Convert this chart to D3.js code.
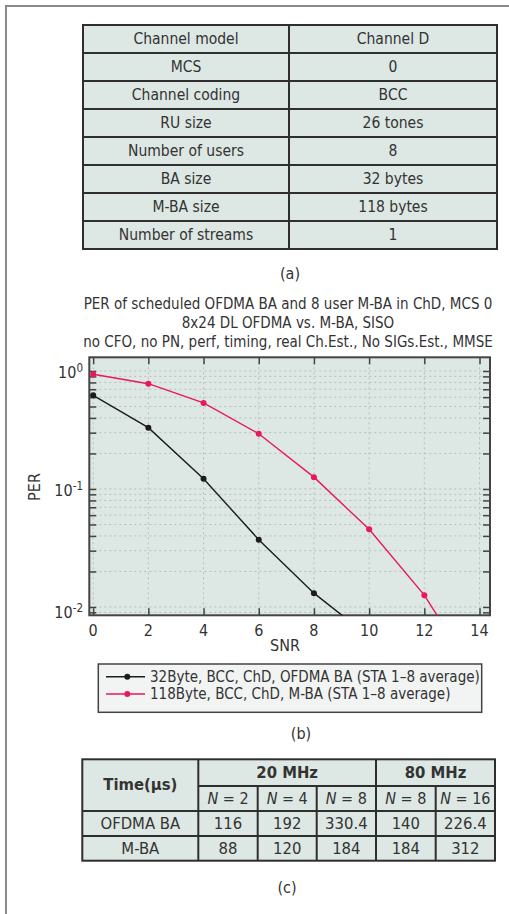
<!DOCTYPE html>
<meta charset="utf-8">
<style>
body { margin: 0; background: #fff; }
svg text { font-family: "DejaVu Sans Condensed", "DejaVu Sans", sans-serif; font-stretch: condensed; fill: #333; }
.grid line { stroke: #b9bfbc; stroke-dasharray: 2,3; }
</style>
<body>
<script src="https://d3js.org/d3.v7.min.js"></script>
<script>

var width = 509,
    height = 914;

// table (a)
var paramNames = ["Channel model", "MCS", "Channel coding", "RU size", "Number of users", "BA size", "M-BA size", "Number of streams"];
var paramValues = ["Channel D", "0", "BCC", "26 tones", "8", "32 bytes", "118 bytes", "1"];

// chart (b)
var snr = [0, 2, 4, 6, 8, 10, 12, 14];
var perOfdma = [0.622, 0.331, 0.122, 0.0372, 0.0131, 0.0056, null, null];
var perMba = [0.938, 0.780, 0.536, 0.294, 0.126, 0.0455, 0.0126, 0.0023];
var seriesNames = ["32Byte, BCC, ChD, OFDMA BA (STA 1\u20138 average)", "118Byte, BCC, ChD, M-BA (STA 1\u20138 average)"];
var seriesColors = ["#1c1c1c", "#e8185c"];
var titleLines = [
    "PER of scheduled OFDMA BA and 8 user M-BA in ChD, MCS 0",
    "8x24 DL OFDMA vs. M-BA, SISO",
    "no CFO, no PN, perf, timing, real Ch.Est., No SIGs.Est., MMSE"
];
var xTicks = [0, 2, 4, 6, 8, 10, 12, 14];
var yTickExps = [0, -1, -2];

// table (c)
var bandNames = ["20 MHz", "80 MHz"];
var bandSpans = [3, 2];
var userCounts = [2, 4, 8, 8, 16];
var rowNames = ["OFDMA BA", "M-BA"];
var timeOfdma = ["116", "192", "330.4", "140", "226.4"];
var timeMba = ["88", "120", "184", "184", "312"];

var svg = d3.select("body").append("svg")
    .attr("width", width)
    .attr("height", height);

// page frame
svg.append("path")
    .attr("d", "M6," + height + "V6H" + width)
    .attr("fill", "none")
    .attr("stroke", "#8a8a8a")
    .attr("stroke-width", 2);

var cellFill = "#dde7e3",
    lineCol = "#2e2e2e";

// ---------- table (a)
var ta = { x0: 83, x1: 497, xm: 289, y0: 25, rh: 28 };
var gA = svg.append("g");
gA.append("rect")
    .attr("x", ta.x0).attr("y", ta.y0)
    .attr("width", ta.x1 - ta.x0).attr("height", ta.rh * paramNames.length)
    .attr("fill", cellFill).attr("stroke", lineCol).attr("stroke-width", 2);
gA.append("line")
    .attr("x1", ta.xm).attr("x2", ta.xm)
    .attr("y1", ta.y0).attr("y2", ta.y0 + ta.rh * paramNames.length)
    .attr("stroke", lineCol).attr("stroke-width", 2);
gA.selectAll(".rowline").data(paramNames.slice(1)).enter().append("line")
    .attr("x1", ta.x0).attr("x2", ta.x1)
    .attr("y1", (d, i) => ta.y0 + ta.rh * (i + 1))
    .attr("y2", (d, i) => ta.y0 + ta.rh * (i + 1))
    .attr("stroke", lineCol).attr("stroke-width", 2);
gA.selectAll(".pname").data(paramNames).enter().append("text")
    .attr("x", (ta.x0 + ta.xm) / 2)
    .attr("y", (d, i) => ta.y0 + ta.rh * i + ta.rh / 2)
    .attr("dy", "0.35em").attr("text-anchor", "middle")
    .style("font-size", "15.5px")
    .text(d => d);
gA.selectAll(".pval").data(paramValues).enter().append("text")
    .attr("x", (ta.xm + ta.x1) / 2)
    .attr("y", (d, i) => ta.y0 + ta.rh * i + ta.rh / 2)
    .attr("dy", "0.35em").attr("text-anchor", "middle")
    .style("font-size", "15.5px")
    .text(d => d);
svg.append("text").attr("x", 290).attr("y", 273).attr("dy", "0.35em")
    .attr("text-anchor", "middle").style("font-size", "16px").text("(a)");

// ---------- chart (b)
var plot = { left: 89.3, right: 490, top: 357.3, bottom: 615.3 };

var x = d3.scaleLinear()
    .domain([-0.14, 14.38])
    .range([plot.left, plot.right]);

var y = d3.scaleLog()
    .domain([0.0085, 1.306])
    .range([plot.bottom, plot.top]);

svg.append("g").selectAll("text").data(titleLines).enter().append("text")
    .attr("x", 288)
    .attr("y", (d, i) => 304 + i * 19)
    .attr("dy", "0.35em").attr("text-anchor", "middle")
    .style("font-size", "15px")
    .text(d => d);

svg.append("defs").append("clipPath").attr("id", "clip")
  .append("rect")
    .attr("x", plot.left).attr("y", plot.top)
    .attr("width", plot.right - plot.left).attr("height", plot.bottom - plot.top);

svg.append("rect")
    .attr("x", plot.left).attr("y", plot.top)
    .attr("width", plot.right - plot.left).attr("height", plot.bottom - plot.top)
    .attr("fill", cellFill);

var yMinor = y.ticks();

var grid = svg.append("g").attr("class", "grid");
grid.selectAll(".gx").data(xTicks).enter().append("line")
    .attr("x1", d => x(d)).attr("x2", d => x(d))
    .attr("y1", plot.top).attr("y2", plot.bottom);
grid.selectAll(".gy").data(yMinor).enter().append("line")
    .attr("x1", plot.left).attr("x2", plot.right)
    .attr("y1", d => y(d)).attr("y2", d => y(d));

// axes, ticks pointing inwards on all four sides
var tickLen = 7;
var axisCol = "#444";
svg.append("g")
    .attr("transform", "translate(0," + plot.bottom + ")")
    .call(d3.axisBottom(x).tickValues(xTicks).tickSizeInner(-tickLen).tickSizeOuter(0).tickFormat(""))
    .call(g => g.select(".domain").remove())
    .selectAll("line").attr("stroke", axisCol).attr("stroke-width", 1.5);
svg.append("g")
    .attr("transform", "translate(0," + plot.top + ")")
    .call(d3.axisTop(x).tickValues(xTicks).tickSizeInner(-tickLen).tickSizeOuter(0).tickFormat(""))
    .call(g => g.select(".domain").remove())
    .selectAll("line").attr("stroke", axisCol).attr("stroke-width", 1.5);
svg.append("g")
    .attr("transform", "translate(" + plot.left + ",0)")
    .call(d3.axisLeft(y).tickValues(yMinor).tickSizeInner(-tickLen).tickSizeOuter(0).tickFormat(""))
    .call(g => g.select(".domain").remove())
    .selectAll("line").attr("stroke", axisCol).attr("stroke-width", 1.5);
svg.append("g")
    .attr("transform", "translate(" + plot.right + ",0)")
    .call(d3.axisRight(y).tickValues(yMinor).tickSizeInner(-tickLen).tickSizeOuter(0).tickFormat(""))
    .call(g => g.select(".domain").remove())
    .selectAll("line").attr("stroke", axisCol).attr("stroke-width", 1.5);

svg.append("rect")
    .attr("x", plot.left).attr("y", plot.top)
    .attr("width", plot.right - plot.left).attr("height", plot.bottom - plot.top)
    .attr("fill", "none").attr("stroke", axisCol).attr("stroke-width", 2);

// tick labels
svg.append("g").selectAll("text").data(xTicks).enter().append("text")
    .attr("x", d => x(d)).attr("y", 630).attr("dy", "0.35em")
    .attr("text-anchor", "middle").style("font-size", "16px")
    .text(d => d);

var yl = svg.append("g").selectAll("text").data(yTickExps).enter().append("text")
    .attr("x", 83).attr("y", d => y(Math.pow(10, d)) + (d === -2 ? 5 : 1)).attr("dy", "0.35em")
    .attr("text-anchor", "end").style("font-size", "16px");
yl.append("tspan").text("10");
yl.append("tspan").attr("dy", "-0.5em").style("font-size", "11.5px").text(d => d === 0 ? "0" : "-" + (-d));

svg.append("text")
    .attr("transform", "translate(34,487) rotate(-90)")
    .attr("dy", "0.35em").attr("text-anchor", "middle")
    .style("font-size", "16px").text("PER");
svg.append("text")
    .attr("x", 285).attr("y", 645).attr("dy", "0.35em")
    .attr("text-anchor", "middle").style("font-size", "16px").text("SNR");

// series
var series = [perOfdma, perMba].map((vals, k) => ({
    name: seriesNames[k],
    color: seriesColors[k],
    points: snr.map((s, i) => ({ snr: s, per: vals[i] })).filter(p => p.per != null)
}));

var line = d3.line()
    .x(d => x(d.snr))
    .y(d => y(d.per));

var plotArea = svg.append("g").attr("clip-path", "url(#clip)");
var sg = plotArea.selectAll(".series").data(series).enter().append("g");
sg.append("path")
    .attr("d", d => line(d.points))
    .attr("fill", "none")
    .attr("stroke", d => d.color)
    .attr("stroke-width", 1.4);
sg.each(function(d) {
    d3.select(this).selectAll("circle").data(d.points).enter().append("circle")
        .attr("cx", p => x(p.snr))
        .attr("cy", p => y(p.per))
        .attr("r", 3)
        .attr("fill", d.color);
});

// legend
var lg = svg.append("g");
lg.append("rect")
    .attr("x", 98.3).attr("y", 664)
    .attr("width", 481.7 - 98.3).attr("height", 48.3)
    .attr("fill", "#f1f4f3").attr("stroke", axisCol).attr("stroke-width", 1.5);
var li = lg.selectAll(".item").data(series).enter().append("g")
    .attr("transform", (d, i) => "translate(0," + (676.7 + i * 17.3) + ")");
li.append("line")
    .attr("x1", 106).attr("x2", 145)
    .attr("stroke", d => d.color).attr("stroke-width", 1.4);
li.append("circle")
    .attr("cx", 127.3).attr("r", 3).attr("fill", d => d.color);
li.append("text")
    .attr("x", 150).attr("dy", "0.35em")
    .style("font-size", "15px")
    .text(d => d.name);

svg.append("text").attr("x", 301).attr("y", 733).attr("dy", "0.35em")
    .attr("text-anchor", "middle").style("font-size", "16px").text("(b)");

// ---------- table (c)
var colX = [82.3, 198.3, 257.7, 316.7, 376, 435.7, 495];
var rowY = [759.3, 786, 811, 836, 860.7];
var gC = svg.append("g");
gC.append("rect")
    .attr("x", colX[0]).attr("y", rowY[0])
    .attr("width", colX[6] - colX[0]).attr("height", rowY[4] - rowY[0])
    .attr("fill", cellFill).attr("stroke", lineCol).attr("stroke-width", 2);

function hline(x1, x2, yy) {
    gC.append("line").attr("x1", x1).attr("x2", x2).attr("y1", yy).attr("y2", yy)
        .attr("stroke", lineCol).attr("stroke-width", 2);
}
function vline(xx, y1, y2) {
    gC.append("line").attr("x1", xx).attr("x2", xx).attr("y1", y1).attr("y2", y2)
        .attr("stroke", lineCol).attr("stroke-width", 2);
}
hline(colX[1], colX[6], rowY[1]);
hline(colX[0], colX[6], rowY[2]);
hline(colX[0], colX[6], rowY[3]);
vline(colX[1], rowY[0], rowY[4]);
vline(colX[4], rowY[0], rowY[4]);
[2, 3, 5].forEach(c => vline(colX[c], rowY[1], rowY[4]));

function ctext(cx, cy, txt, bold) {
    return gC.append("text").attr("x", cx).attr("y", cy).attr("dy", "0.35em")
        .attr("text-anchor", "middle").style("font-size", "16.5px")
        .style("font-weight", bold ? "bold" : null)
        .text(txt);
}

ctext((colX[0] + colX[1]) / 2, (rowY[0] + rowY[2]) / 2 - 1, "Time(\u03bcs)", true);
var c0 = 1;
bandNames.forEach((b, i) => {
    var c1 = c0 + bandSpans[i];
    ctext((colX[c0] + colX[c1]) / 2, (rowY[0] + rowY[1]) / 2, b, true);
    c0 = c1;
});
userCounts.forEach((n, i) => {
    var t = gC.append("text")
        .attr("x", (colX[i + 1] + colX[i + 2]) / 2)
        .attr("y", (rowY[1] + rowY[2]) / 2).attr("dy", "0.35em")
        .attr("text-anchor", "middle").style("font-size", "16px");
    t.append("tspan").style("font-style", "italic").text("N");
    t.append("tspan").text(" = " + n);
});
[timeOfdma, timeMba].forEach((vals, r) => {
    var cy = (rowY[r + 2] + rowY[r + 3]) / 2;
    ctext((colX[0] + colX[1]) / 2, cy, rowNames[r], false);
    vals.forEach((v, i) => ctext((colX[i + 1] + colX[i + 2]) / 2, cy, v, false));
});

svg.append("text").attr("x", 287).attr("y", 887).attr("dy", "0.35em")
    .attr("text-anchor", "middle").style("font-size", "16px").text("(c)");

</script>
</body>
